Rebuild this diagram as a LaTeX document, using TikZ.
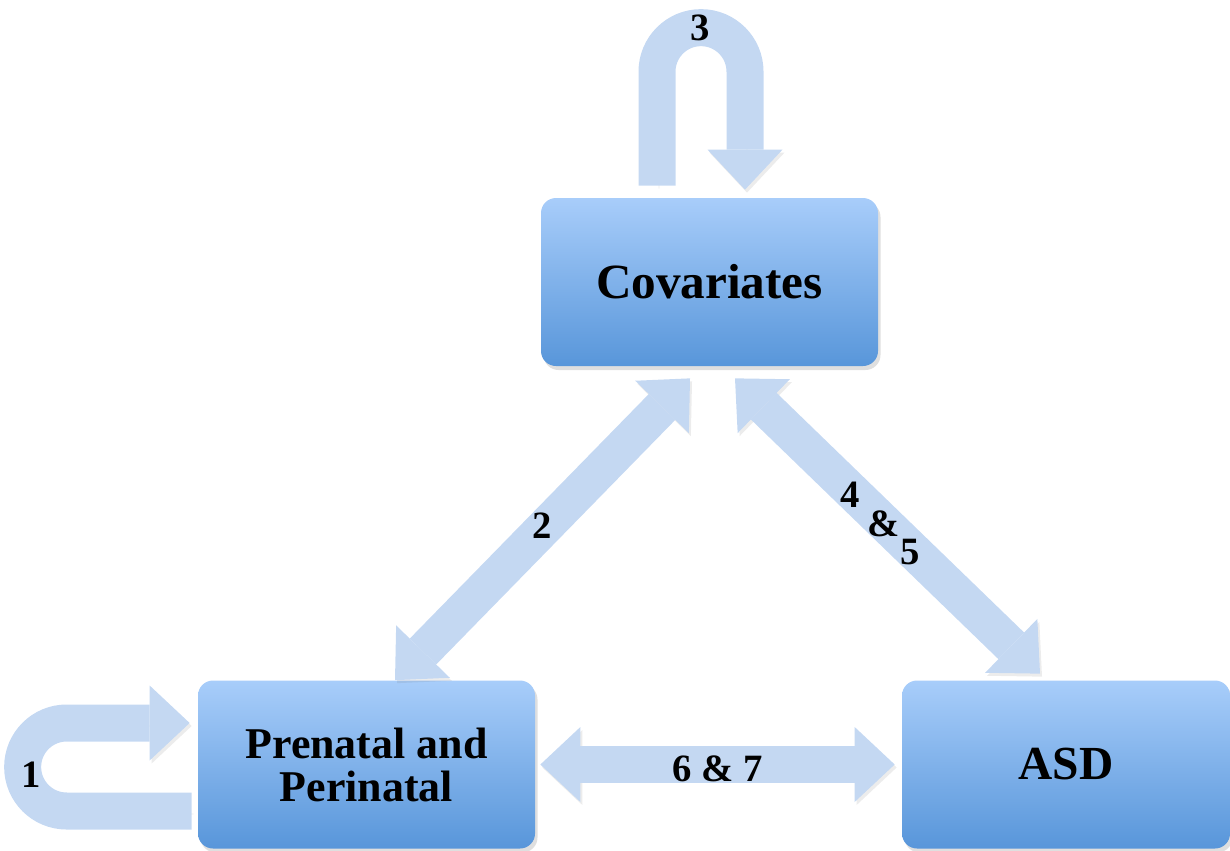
\documentclass[tikz,border=0pt]{standalone}
\usepackage{fontspec}
\setmainfont{Liberation Serif}
\usetikzlibrary{arrows.meta, positioning, calc, shadows}
\definecolor{boxtop}{RGB}{168,205,250}
\definecolor{boxbot}{RGB}{88,150,218}
\definecolor{arrowfill}{RGB}{196,216,242}
\tikzset{
    box_main_blue/.style={
        rectangle, rounded corners=0.3cm, draw=none,
        top color=boxtop, bottom color=boxbot,
        minimum width=6.74cm, minimum height=3.36cm,
        align=center, font=\fontsize{28}{30}\selectfont\bfseries,
        drop shadow={opacity=0.25, shadow xshift=0.05cm, shadow yshift=-0.08cm}
    },
    fat_arrow/.style={
        draw=arrowfill, line width=0.74cm,
        -{Triangle[length=0.8cm, width=1.5cm, line width=0pt]},
        preaction={draw=black!60, opacity=0.12, transform canvas={shift={(0.04,-0.06)}}}
    },
    fat_both/.style={
        fat_arrow,
        {Triangle[length=0.8cm, width=1.5cm, line width=0pt]}-{Triangle[length=0.8cm, width=1.5cm, line width=0pt]}
    },
    num_lbl/.style={
        font=\fontsize{22}{16.4}\selectfont\bfseries, text=black, inner sep=0pt
    }
}

\begin{document}
\begin{tikzpicture}

    \useasboundingbox (0,0) rectangle (24.6,-17);

    \node[box_main_blue] (cov) at (14.19, -5.64) {Covariates};
    \node[box_main_blue, font=\fontsize{25}{24.5}\selectfont\bfseries] (prenatal) at (7.33, -15.29) {Prenatal and\\Perinatal};
    \node[box_main_blue, minimum width=6.56cm, font=\fontsize{27}{30}\selectfont\bfseries] (asd) at (21.32, -15.29) {ASD};

    \draw[fat_arrow] ([xshift=-1.05cm, yshift=0.24cm]cov.north) -- ++(0, 2.28)
        arc[start angle=180, end angle=0, radius=0.88] -- ([xshift=0.71cm, yshift=0.16cm]cov.north);
    \node[num_lbl] (lbl_three) at (14.0, -0.56) {3};

    \draw[fat_arrow] ([xshift=-0.12cm, yshift=-0.93cm]prenatal.west) -- ++(-2.5, 0)
        arc[start angle=-90, end angle=-270, radius=0.88] -- ([xshift=-0.16cm, yshift=0.83cm]prenatal.west);
    \node[num_lbl] (lbl_one) at (0.62, -15.5) {1};

    \draw[fat_both] ([xshift=0.57cm]prenatal.north) -- ([xshift=-0.39cm, yshift=-0.24cm]cov.south)
        node[num_lbl, midway, yshift=0.08cm] (lbl_two) {2};
    \draw[fat_both] ([xshift=0.51cm, yshift=-0.24cm]cov.south) -- ([xshift=-0.52cm, yshift=0.13cm]asd.north)
        node[num_lbl, midway, align=left, xshift=-0.15cm, yshift=0.05cm] (lbl_four) {4\\\hspace*{0.55cm}\&\\\hspace*{1.2cm}5};
    \draw[fat_both] ([xshift=0.1cm]prenatal.east) -- ([xshift=-0.14cm]asd.west)
        node[num_lbl, midway, yshift=-0.08cm] (lbl_six) {6 \& 7};

\end{tikzpicture}
\end{document}
